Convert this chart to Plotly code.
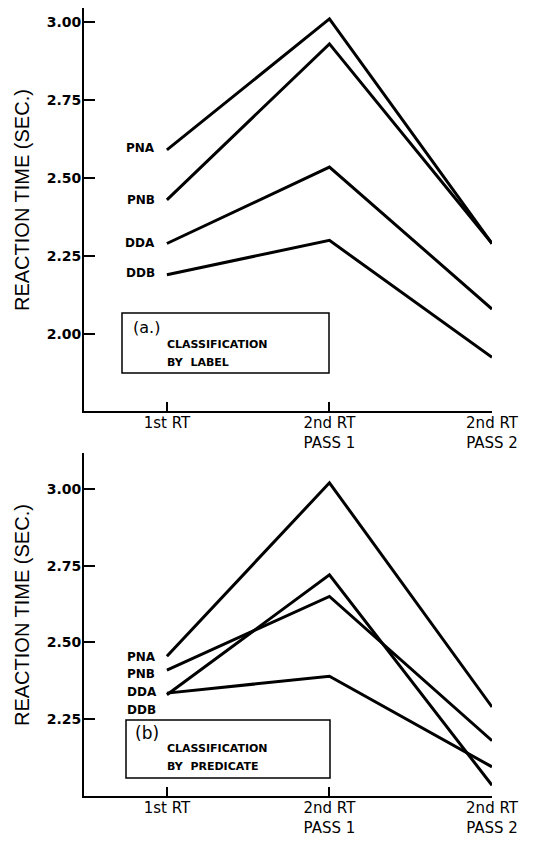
import plotly.graph_objects as go

# The page body has an 8px margin; size the figure so the page fits the 536x844 window.
OFF = 8
W, H = 536 - 2 * OFF, 844 - 2 * OFF

categories = ["1st RT", "2nd RT<br>PASS 1", "2nd RT<br>PASS 2"]
series_names = ["PNA", "PNB", "DDA", "DDB"]

# Panel (a): classification by label
a_PNA = [2.59, 3.01, 2.29]
a_PNB = [2.43, 2.93, 2.29]
a_DDA = [2.29, 2.535, 2.08]
a_DDB = [2.19, 2.30, 1.925]

# Panel (b): classification by predicate
b_PNA = [2.455, 3.02, 2.29]
b_PNB = [2.41, 2.65, 2.18]
b_DDA = [2.33, 2.72, 2.035]
b_DDB = [2.335, 2.39, 2.095]

a_ticks = [2.00, 2.25, 2.50, 2.75, 3.00]
b_ticks = [2.25, 2.50, 2.75, 3.00]

FONT = "Liberation Sans, Arial, sans-serif"
DV = "DejaVu Sans, sans-serif"


def px(x):
    return (x - OFF) / W


def py(y):
    return 1 - (y - OFF) / H


fig = go.Figure()
for vals in [a_PNA, a_PNB, a_DDA, a_DDB]:
    fig.add_trace(go.Scatter(x=categories, y=vals, mode="lines", xaxis="x", yaxis="y",
                             line=dict(color="black", width=3), cliponaxis=False,
                             showlegend=False, hoverinfo="skip"))
for vals in [b_PNA, b_PNB, b_DDA, b_DDB]:
    fig.add_trace(go.Scatter(x=categories, y=vals, mode="lines", xaxis="x2", yaxis="y2",
                             line=dict(color="black", width=3), cliponaxis=False,
                             showlegend=False, hoverinfo="skip"))

xcommon = dict(type="category", range=[-0.51, 2.0], showgrid=False, zeroline=False,
               showline=True, linecolor="black", linewidth=2, ticks="inside", ticklen=9,
               tickwidth=1.5, tickcolor="black", ticklabelstandoff=-3,
               tickfont=dict(family=DV, size=15, color="black"))
ycommon = dict(showgrid=False, zeroline=False, showline=True, linecolor="black", linewidth=2,
               ticks="inside", ticklen=11, tickwidth=1.5, tickcolor="black", tickformat=".2f",
               ticklabelstandoff=-2,
               tickfont=dict(family=DV, size=14, color="black", weight="bold"))

fig.update_layout(
    width=W, height=H, autosize=False,
    margin=dict(l=0, r=0, t=0, b=0, autoexpand=False),
    paper_bgcolor="white", plot_bgcolor="white",
    xaxis=dict(domain=[px(84), px(492)], anchor="y", **xcommon),
    yaxis=dict(domain=[py(411), min(1.0, py(5))], anchor="x", range=[1.753, 3.045],
               tickvals=a_ticks, **ycommon),
    xaxis2=dict(domain=[px(84), px(492)], anchor="y2", **xcommon),
    yaxis2=dict(domain=[py(796), py(453)], anchor="x2", range=[2.0, 3.117],
                tickvals=b_ticks, **ycommon),
)

ann = []
# y-axis titles
for yc in (200, 615):
    ann.append(dict(x=px(22), y=py(yc), xref="paper", yref="paper", text="REACTION TIME (SEC.)",
                    textangle=-90, xanchor="center", yanchor="middle", showarrow=False,
                    font=dict(family=FONT, size=20, color="black")))

# series labels, panel (a)
a_label_y = [148, 200, 243, 273]
for name, yy in zip(series_names, a_label_y):
    ann.append(dict(x=px(157), y=py(yy), xref="paper", yref="paper", text=name,
                    xanchor="right", yanchor="middle", showarrow=False,
                    font=dict(family=DV, size=12, color="black", weight="bold")))
# series labels, panel (b)
b_label_y = [657, 674, 692, 710]
for name, yy in zip(series_names, b_label_y):
    ann.append(dict(x=px(125), y=py(yy), xref="paper", yref="paper", text=name,
                    xanchor="left", yanchor="middle", showarrow=False,
                    font=dict(family=DV, size=12, color="black", weight="bold")))

# boxes
shapes = [
    dict(type="rect", xref="paper", yref="paper", x0=px(122), x1=px(329), y0=py(373), y1=py(313),
         line=dict(color="black", width=1.5)),
    dict(type="rect", xref="paper", yref="paper", x0=px(126), x1=px(330), y0=py(778), y1=py(720),
         line=dict(color="black", width=1.5)),
]


def box_text(x, y, t, size, weight="normal", fam=DV):
    ann.append(dict(x=px(x), y=py(y), xref="paper", yref="paper", text=t, xanchor="left",
                    yanchor="middle", showarrow=False,
                    font=dict(family=fam, size=size, color="black", weight=weight)))


box_text(131, 328, "(a.)", 16)
box_text(165, 344, "CLASSIFICATION", 11, "bold")
box_text(165, 362, "BY  LABEL", 11, "bold")
box_text(133, 733, "(b)", 17)
box_text(165, 748, "CLASSIFICATION", 11, "bold")
box_text(165, 766, "BY  PREDICATE", 11, "bold")

fig.update_layout(annotations=ann, shapes=shapes)
fig.write_html("out.html")
